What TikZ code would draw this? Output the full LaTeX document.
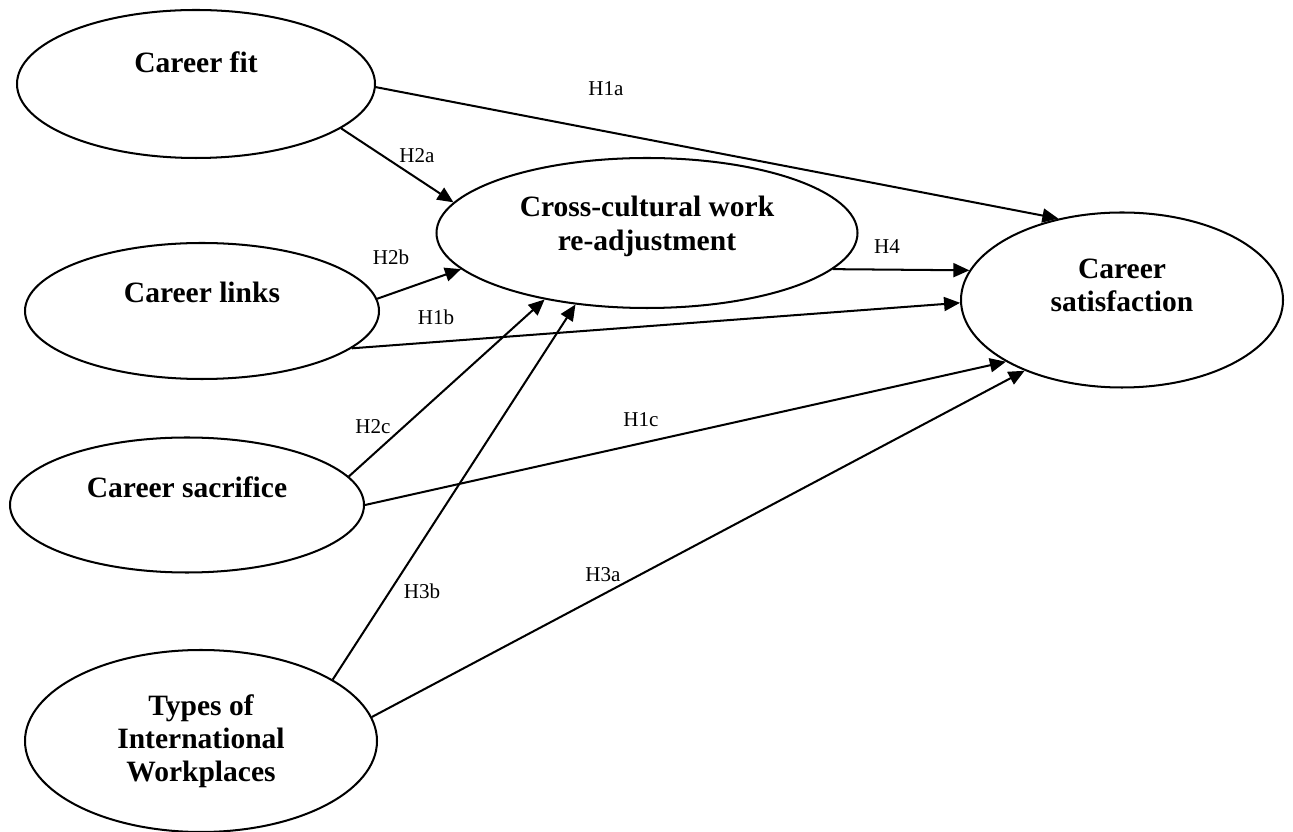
\documentclass[tikz,border=0pt]{standalone}
\usepackage{fontspec}
\setmainfont{Liberation Serif}
\usetikzlibrary{shapes.geometric,arrows.meta}

\begin{document}
\begin{tikzpicture}[
    line width=1.15pt,
    construct/.style={draw, ellipse, inner sep=0pt},
    title/.style={font=\fontsize{16.8}{18.9}\selectfont\bfseries, align=center},
    hyp/.style={font=\fontsize{12}{13}\selectfont},
    hyparrow/.style={-{Triangle[length=0.32cm, width=0.28cm]}}
  ]
  \useasboundingbox (0, 0) rectangle (25.86, -16.64);

  % constructs
  \node[construct, minimum width=7.16cm, minimum height=2.96cm,
        label={[title, yshift=0.44cm]center:Career fit}] (fit) at (3.92, -1.68) {};
  \node[construct, minimum width=7.08cm, minimum height=2.72cm,
        label={[title, yshift=0.38cm]center:Career links}] (links) at (4.04, -6.22) {};
  \node[construct, minimum width=7.08cm, minimum height=2.70cm,
        label={[title, yshift=0.36cm]center:Career sacrifice}] (sac) at (3.74, -10.10) {};
  \node[construct, minimum width=7.04cm, minimum height=3.64cm,
        label={[title]center:Types of\\International\\Workplaces}] (types) at (4.02, -14.82) {};
  \node[construct, minimum width=8.42cm, minimum height=3.00cm,
        label={[title, yshift=0.13cm]center:Cross-cultural work\\re-adjustment}] (cross) at (12.94, -4.66) {};
  \node[construct, minimum width=6.44cm, minimum height=3.50cm,
        label={[title, yshift=0.30cm]center:Career\\satisfaction}] (sat) at (22.44, -6.00) {};

  % hypotheses
  \draw[hyparrow] (fit.-1) -- (sat.128);
  \draw[hyparrow] (fit.-17) -- (cross.171);
  \draw[hyparrow] (links.4) -- (cross.-169);
  \draw[hyparrow] (links.-14) -- (sat.181);
  \draw[hyparrow] (cross.-11) -- (sat.169);
  \draw[hyparrow] (sac.10) -- (cross.-147);
  \draw[hyparrow] (types.25) -- (cross.-135);
  \draw[hyparrow] (sac.0) -- (sat.-152);
  \draw[hyparrow] (types.8) -- (sat.-144);

  \node[hyp] (h1a) at (12.12, -1.78) {H1a};
  \node[hyp] (h2a) at (8.34, -3.12) {H2a};
  \node[hyp] (h2b) at (7.82, -5.14) {H2b};
  \node[hyp] (h1b) at (8.72, -6.34) {H1b};
  \node[hyp] (h4) at (17.74, -4.94) {H4};
  \node[hyp] (h2c) at (7.46, -8.54) {H2c};
  \node[hyp] (h3b) at (8.44, -11.82) {H3b};
  \node[hyp] (h1c) at (12.82, -8.40) {H1c};
  \node[hyp] (h3a) at (12.06, -11.50) {H3a};
\end{tikzpicture}
\end{document}
